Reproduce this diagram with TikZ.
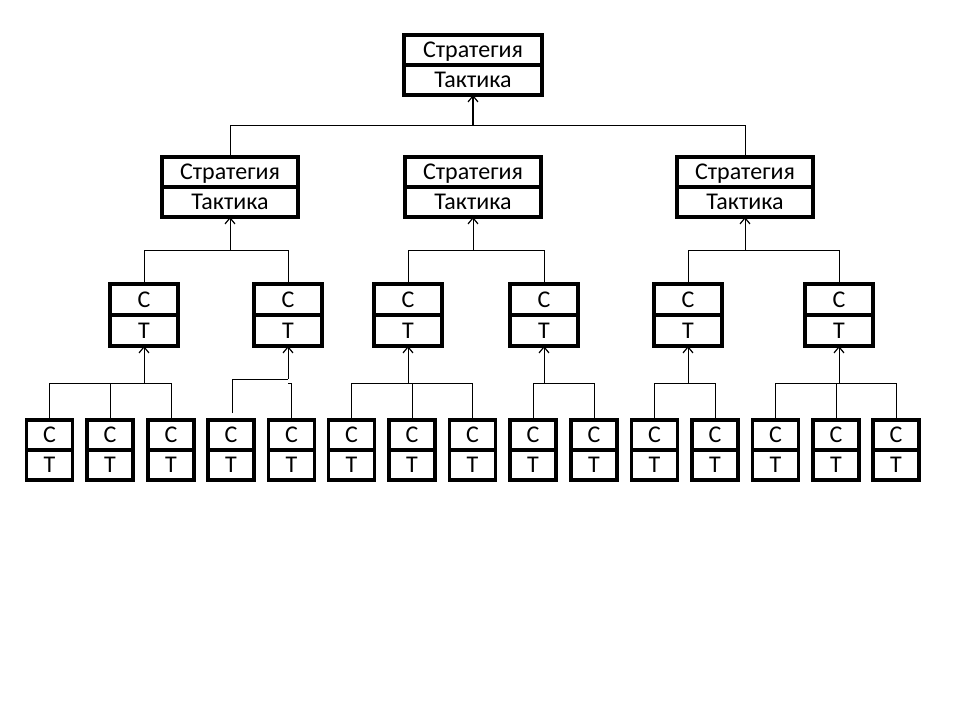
\documentclass[tikz,border=0pt]{standalone}
\usepackage{fontspec}
\setmainfont{Carlito}
\usetikzlibrary{arrows.meta,calc}
\tikzset{
  boxst/.style={draw=black, line width=3.4pt, rectangle, inner sep=0pt, outer sep=0pt, fill=white},
  divst/.style={draw=black, line width=3.2pt},
  txt/.style={inner sep=0pt, text height=15.4pt, text depth=0pt, font=\fontsize{24}{28}\selectfont},
  conn/.style={draw=black, line width=1pt},
  up/.style={conn, -{Straight Barb[length=6pt,width=10pt,line width=1.2pt]}},
}
\newcommand\tbox[7]{%
  \node[boxst, minimum width=#4pt, minimum height=#5pt] (#1) at (#2,#3) {};
  \draw[divst] (#1.west) -- (#1.east);
  \node[txt] (#1-s) at (#2,{#3-#5/4}) {#6};
  \node[txt] (#1-t) at (#2,{#3+#5/4}) {#7};
}
\begin{document}
\begin{tikzpicture}[x=1pt,y=-1pt]
\useasboundingbox (0,0) rectangle (960,720);
% top
\tbox{top}{473}{65}{138}{60}{Стратегия}{Тактика}
% level 2
\tbox{m1}{230}{187}{136}{60}{Стратегия}{Тактика}
\tbox{m2}{473}{187}{136}{60}{Стратегия}{Тактика}
\tbox{m3}{745}{187}{136}{60}{Стратегия}{Тактика}
% level 3
\tbox{a1}{144}{315}{68}{62}{С}{Т}
\tbox{a2}{288}{315}{68}{62}{С}{Т}
\tbox{a3}{408}{315}{68}{62}{С}{Т}
\tbox{a4}{544}{315}{68}{62}{С}{Т}
\tbox{a5}{688}{315}{68}{62}{С}{Т}
\tbox{a6}{839}{315}{68}{62}{С}{Т}
% level 4
\tbox{b1}{49.5}{450}{46}{60}{С}{Т}
\tbox{b2}{110}{450}{46}{60}{С}{Т}
\tbox{b3}{171}{450}{46}{60}{С}{Т}
\tbox{b4}{231}{450}{46}{60}{С}{Т}
\tbox{b5}{291.5}{450}{46}{60}{С}{Т}
\tbox{b6}{351.5}{450}{46}{60}{С}{Т}
\tbox{b7}{412}{450}{46}{60}{С}{Т}
\tbox{b8}{472.5}{450}{46}{60}{С}{Т}
\tbox{b9}{533}{450}{46}{60}{С}{Т}
\tbox{b10}{594}{450}{46}{60}{С}{Т}
\tbox{b11}{654.5}{450}{46}{60}{С}{Т}
\tbox{b12}{715}{450}{46}{60}{С}{Т}
\tbox{b13}{775.5}{450}{46}{60}{С}{Т}
\tbox{b14}{836}{450}{46}{60}{С}{Т}
\tbox{b15}{896}{450}{46}{60}{С}{Т}

% connectors: top level
\coordinate (tb) at (473,125);
\draw[conn] (m1.north) |- (tb);
\draw[conn] (m3.north) |- (tb);
\draw[up, line width=1.8pt] (tb) -- (top.south);
% level 2 groups
\foreach \p/\c in {m1/a1, m1/a2, m2/a3, m2/a4, m3/a5, m3/a6}{
  \draw[conn] (\c.north) |- ($(\p.south)+(0,33)$);
}
\foreach \p in {m1,m2,m3}{
  \draw[up] ($(\p.south)+(0,33)$) -- (\p.south);
}
% level 3 groups
\foreach \p/\c in {a1/b1, a1/b2, a1/b3, a3/b6, a3/b7, a3/b8, a4/b9, a4/b10, a5/b11, a5/b12, a6/b13, a6/b14, a6/b15}{
  \draw[conn] (\c.north) |- ($(\p.south)+(0,37)$);
}
\foreach \p in {a1,a3,a4,a5,a6}{
  \draw[up] ($(\p.south)+(0,37)$) -- (\p.south);
}
% odd group under a2
\coordinate (g2s) at (232,413);
\coordinate (g2b) at (288,379);
\draw[conn] (g2s) |- (g2b);
\draw[conn] (b5.north) |- ($(a2.south)+(0,37)$);
\draw[up] (g2b) -- (a2.south);
\end{tikzpicture}
\end{document}
